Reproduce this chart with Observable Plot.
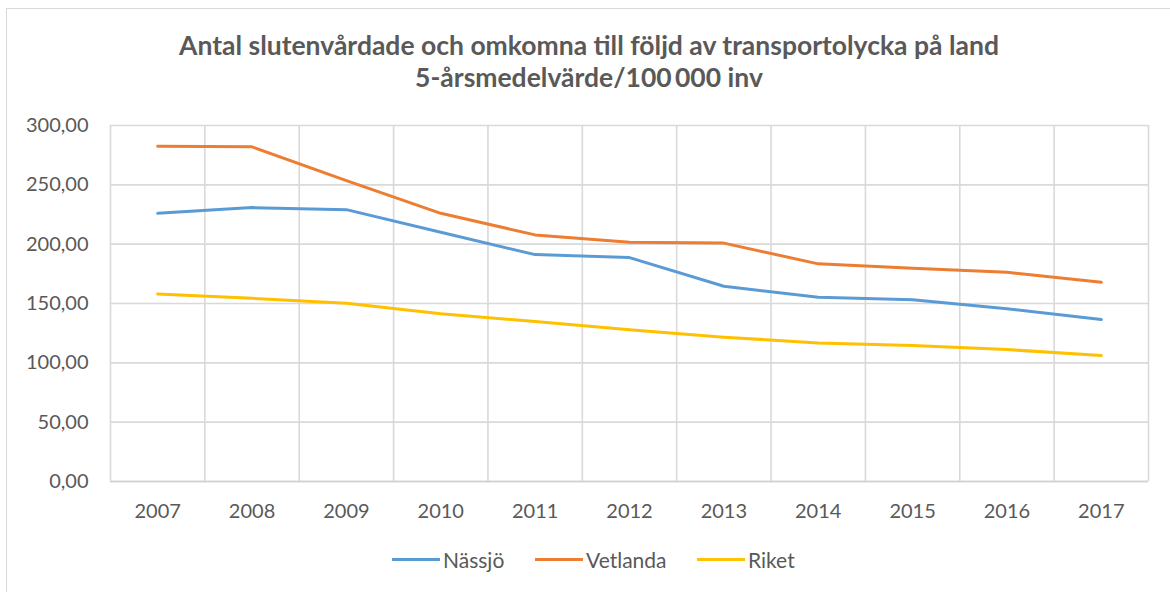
<!DOCTYPE html>
<html>
<head>
<meta charset="utf-8">
<script src="https://cdn.jsdelivr.net/npm/d3@7"></script>
<script src="https://cdn.jsdelivr.net/npm/@observablehq/plot@0.6"></script>
<style>
  body { margin: 0; background: #fff; }
  #wrap { position: relative; width: 1170px; height: 592px; overflow: hidden; background: #fff; font-family: Lato, "Open Sans", sans-serif; color: #595959; }
  #frame { position: absolute; left: 6px; top: 8px; width: 1200px; height: 700px; border: 1.5px solid #d9d9d9; box-sizing: border-box; }
  #title { position: absolute; top: 29px; left: 0; width: 1178px; text-align: center; font-weight: bold; font-size: 26.5px; line-height: 32px; color: #595959; }
  #chart { position: absolute; left: 0; top: 100px; }
  #legend { position: absolute; top: 544px; left: 0; width: 1170px; height: 30px; }
  .item { position: absolute; top: 0; display: flex; align-items: center; font-size: 21px; color: #595959; height: 30px; }
  .swatch { width: 48px; height: 3px; margin-right: 3px; }
</style>
</head>
<body>
<div id="wrap">
  <div id="frame"></div>
  <div id="title">Antal slutenvårdade och omkomna till följd av transportolycka på land<br>5-årsmedelvärde/100&#8201;000 inv</div>
  <div id="chart"></div>
  <div id="legend"></div>
</div>
<script>
const years = [2007, 2008, 2009, 2010, 2011, 2012, 2013, 2014, 2015, 2016, 2017];
const nassjo =   [226.0, 230.8, 229.1, 210.0, 191.2, 188.7, 164.5, 155.3, 153.1, 145.5, 136.5];
const vetlanda = [282.5, 282.0, 253.5, 226.0, 207.8, 201.6, 200.9, 183.4, 179.7, 176.3, 167.9];
const riket =    [158.1, 154.4, 150.2, 141.3, 134.8, 127.8, 121.6, 116.8, 114.6, 111.2, 106.1];
const seriesNames = ["Nässjö", "Vetlanda", "Riket"];
const seriesColors = ["#5B9BD5", "#ED7D31", "#FFC000"];
const yTicks = [0, 50, 100, 150, 200, 250, 300];

const seriesValues = [nassjo, vetlanda, riket];
const data = [];
seriesNames.forEach((name, i) => {
  years.forEach((yr, j) => data.push({series: name, year: yr, value: seriesValues[i][j]}));
});
const boundaries = years.map(y => y - 0.5).concat([years[years.length - 1] + 0.5]);

const plot = Plot.plot({
  width: 1170,
  height: 440,
  marginLeft: 110,
  marginRight: 22,
  marginTop: 25,
  marginBottom: 59,
  style: { fontFamily: "Lato, 'Open Sans', sans-serif", fontSize: "20px", color: "#595959", background: "transparent", overflow: "visible" },
  x: { type: "linear", domain: [boundaries[0], boundaries[boundaries.length - 1]], ticks: years, tickFormat: d => String(d), tickSize: 0, tickPadding: 22, label: null },
  y: { domain: [0, 300], ticks: yTicks, tickFormat: d => d.toFixed(2).replace(".", ","), tickSize: 0, tickPadding: 22, label: null },
  color: { domain: seriesNames, range: seriesColors },
  marks: [
    Plot.ruleY(yTicks, { stroke: "#d9d9d9", strokeWidth: 1.6, strokeOpacity: 1 }),
    Plot.ruleX(boundaries, { stroke: "#d9d9d9", strokeWidth: 1.6, strokeOpacity: 1 }),
    Plot.ruleY([0], { stroke: "#d0d0d0", strokeWidth: 1.6 }),
    Plot.line(data, { x: "year", y: "value", z: "series", stroke: "series", strokeWidth: 3, strokeLinejoin: "round", strokeLinecap: "round" })
  ]
});
document.getElementById("chart").appendChild(plot);

const legend = document.getElementById("legend");
const lefts = [392, 535, 697];
seriesNames.forEach((name, i) => {
  const it = document.createElement("div");
  it.className = "item";
  it.style.left = lefts[i] + "px";
  const sw = document.createElement("div");
  sw.className = "swatch";
  sw.style.background = seriesColors[i];
  const tx = document.createElement("span");
  tx.textContent = name;
  it.appendChild(sw); it.appendChild(tx);
  legend.appendChild(it);
});
</script>
</body>
</html>
